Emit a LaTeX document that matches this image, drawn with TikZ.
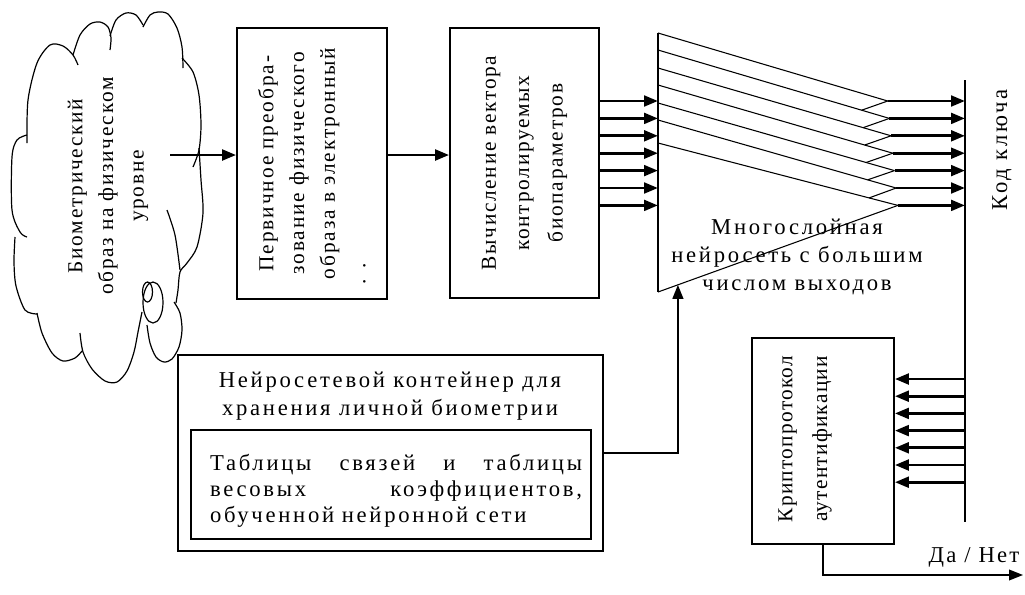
\documentclass[tikz,border=0pt]{standalone}
\usepackage{fontspec}
\setmainfont{Liberation Serif}
\usetikzlibrary{arrows.meta,calc,positioning}

\tikzset{
  box/.style={draw, line width=1.3pt, inner sep=0pt},
  arr/.style={line width=2.2pt, -{Triangle[length=10.5pt,width=8pt]}},
  net/.style={line width=0.8pt},
  cloudline/.style={line width=0.9pt}
}

\begin{document}
\begin{tikzpicture}[x=0.75pt,y=-0.75pt]
  \useasboundingbox (0,0) rectangle (1025,594);

  %cloud
  \draw[cloudline] plot[smooth] coordinates {(27,143) (28,100) (37,63) (50,45) (63,46) (73,55) (78,65)};
  \draw[cloudline] plot[smooth] coordinates {(73,55) (80,35) (90,24) (100,22) (108,27) (111,38) (110,50)};
  \draw[cloudline] plot[smooth] coordinates {(110,36) (116,20) (126,13) (136,15) (143,25)};
  \draw[cloudline] plot[smooth] coordinates {(143,27) (150,15) (158,12) (168,14) (177,28) (182,47) (183,68)};
  \draw[cloudline] plot[smooth] coordinates {(182,58) (193,72) (199,95) (201,125) (199,150) (193,167)};
  \draw[cloudline] plot[smooth] coordinates {(199,148) (201,180) (203,213) (197,247) (187,263) (180,272) (178,290) (176,303)};
  \draw[cloudline] plot[smooth] coordinates {(167,210) (175,235) (180,270)};
  \draw[cloudline] plot[smooth] coordinates {(174,302) (180,313) (182,330) (179,347) (172,359) (164,362) (156,357) (150,343) (147,325)};
  \draw[cloudline] (153,302.5) ellipse [x radius=10, y radius=20.5];
  \draw[cloudline] (147.5,292) ellipse [x radius=5, y radius=10];
  \draw[cloudline] plot[smooth] coordinates {(80,333) (83,352) (92,369) (105,381) (117,382) (127,371) (134,352) (138,332) (142,312)};
  \draw[cloudline] plot[smooth] coordinates {(37,313) (42,333) (52,353) (63,361) (75,358) (82,351)};
  \draw[cloudline] plot[smooth] coordinates {(15,237) (14,262) (16,286) (25,310) (37,314)};
  \draw[cloudline] plot[smooth] coordinates {(27,135) (17,140) (12,157) (12,210) (20,232) (27,237)};
  \node[rotate=90, align=center, font=\fontsize{16}{23}\selectfont\addfontfeatures{LetterSpace=8}] (biotext) at (108,186)
    {Биометрический\\образ на физическом\\уровне};
  \coordinate (bioout) at (170,155);

  %upper boxes
  \node[box, minimum width=112.5pt, minimum height=203.25pt] (prim) at (312,163.5) {};
  \node[rotate=90, text width=182pt, align=center, font=\fontsize{16}{23}\selectfont\addfontfeatures{LetterSpace=9}] (primtext) at (prim.center)
    {Первичное преобра-\\зование физического\\образа в электронный\\. .\hfill\mbox{}};
  \node[box, minimum width=111.75pt, minimum height=202.5pt] (vect) at (524.5,163) {};
  \node[rotate=90, align=center, font=\fontsize{16}{25}\selectfont\addfontfeatures{LetterSpace=8}] (vecttext) at (vect.center)
    {Вычисление вектора\\контролируемых\\биопараметров};

  \draw[arr] (bioout) -- (bioout -| prim.west);
  \draw[arr] (prim.east |- bioout) -- (vect.west |- bioout);

  %network
  \coordinate (nntl) at (658,33);
  \coordinate (nnbl) at (658,292);
  \draw[net] (nntl) -- (nnbl);
  \foreach \i/\ly in {1/33,2/50,3/68,4/85,5/103,6/120,7/143} {
    \coordinate (l\i) at (658,\ly);
    \coordinate (t\i) at ({886+1.7*\i},{83.6+17.4*\i});
    \coordinate (in\i) at (658,{83.6+17.4*\i});
    \draw[net] (l\i) -- (t\i);
  }
  \foreach \i [evaluate=\i as \j using int(\i+1)] in {1,...,6}
    \draw[net] (t\i) -- ($(l\j)!0.88!(t\j)$);
  \draw[net] (nnbl) -- (t7);
  \node[align=center, font=\fontsize{17}{21}\selectfont\addfontfeatures{LetterSpace=12}] (nntext) at (797,257)
    {Многослойная\\нейросеть с большим\\числом выходов};

  %key
  \coordinate (keytop) at (965,80);
  \coordinate (keybot) at (965,522);
  \draw[line width=2.2pt] (keytop) -- (keybot);
  \node[rotate=90, font=\fontsize{17}{21}\selectfont\addfontfeatures{LetterSpace=12}] (keytext) at (1002,150) {Код ключа};

  \foreach \i in {1,...,7} {
    \draw[arr] (in\i -| vect.east) -- (in\i);
    \draw[arr] (t\i) -- (t\i -| keytop);
  }

  %container
  \node[box, line width=1.1pt, minimum width=318.75pt, minimum height=147pt] (cont) at (390.5,453) {};
  \node[align=center, font=\fontsize{17}{21}\selectfont\addfontfeatures{LetterSpace=12}] (conttitle) at (390,396)
    {Нейросетевой контейнер для\\хранения личной биометрии};
  \node[box, line width=1.1pt, minimum width=300pt, minimum height=81.75pt] (tabl) at (391,484.5) {};
  \node[text width=279pt, align=left, font=\fontsize{17}{19.5}\selectfont\addfontfeatures{LetterSpace=12}] (tabltext) at (396,491)
    {Таблицы\hfill связей\hfill и\hfill таблицы\\весовых\hfill коэффициентов,\\обученной нейронной сети};
  \coordinate (nnin) at ($(nnbl)!0.083!(t7)$);
  \draw[line width=1.6pt, -{Triangle[length=10.5pt,width=8pt]}] (cont.east) -| (nnin);

  %crypto
  \node[box, minimum width=106.5pt, minimum height=154.5pt] (crypt) at (823,441) {};
  \node[rotate=90, align=center, font=\fontsize{16}{26}\selectfont\addfontfeatures{LetterSpace=6}] (crypttext) at (805,439)
    {Криптопротокол\\аутентификации};
  \foreach \i in {1,...,7} {
    \coordinate (k\i) at (965,{361.8+17.2*\i});
    \draw[arr] (k\i) -- (k\i -| crypt.east);
  }
  \coordinate (yesno) at (1023,575);
  \draw[line width=1.2pt, -{Triangle[length=10.5pt,width=8pt]}] (crypt.south) |- (yesno);
  \node[font=\fontsize{17}{21}\selectfont\addfontfeatures{LetterSpace=10}] (yesnotext) at (974,557) {Да / Нет};
\end{tikzpicture}
\end{document}
